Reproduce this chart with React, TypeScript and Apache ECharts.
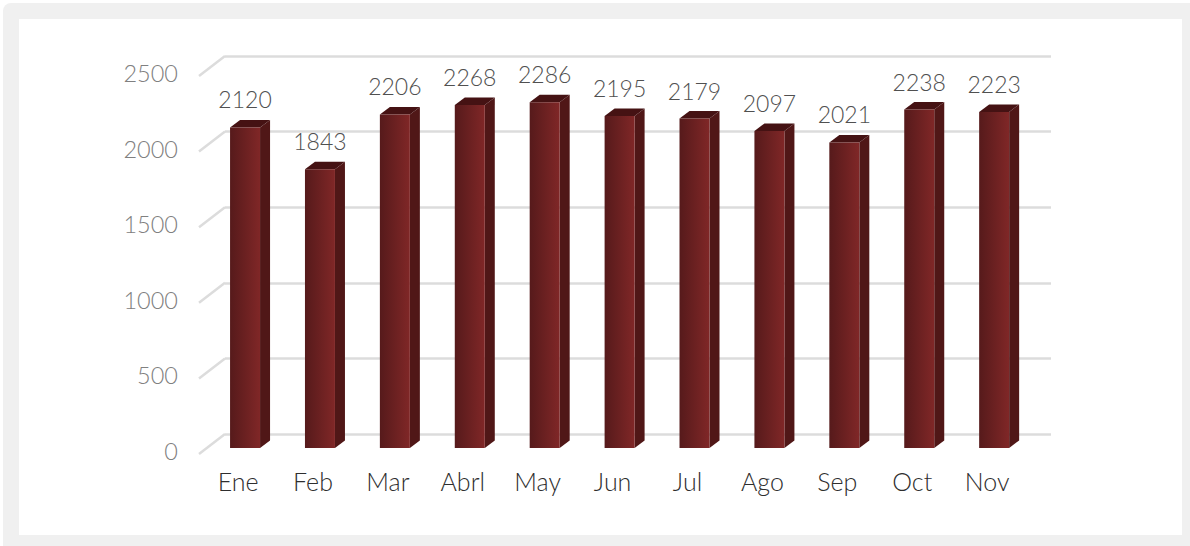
import React, { useEffect, useRef } from "react";
import * as echarts from "echarts";

const categories = ["Ene", "Feb", "Mar", "Abrl", "May", "Jun", "Jul", "Ago", "Sep", "Oct", "Nov"];
const values = [2120, 1843, 2206, 2268, 2286, 2195, 2179, 2097, 2021, 2238, 2223];
const ticks = [0, 500, 1000, 1500, 2000, 2500];

const FONT = "Lato";
const WALL = "#dcdcdc";
const DX = 10;
const DY = 7.5;
const BAR_W = 30;

export default function App() {
  const ref = useRef<HTMLDivElement>(null);
  useEffect(() => {
    document.body.style.margin = "0";
    const chart = echarts.init(ref.current!, null, { renderer: "svg" });
    const commonValue = { type: "value", min: 0, max: 2500, interval: 500 };
    chart.setOption({
      animation: false,
      backgroundColor: "transparent",
      grid: [
        // back wall
        { left: 225, top: 56, width: 826, height: 378 },
        // axis labels
        { left: 200.6, top: 73, width: 824, height: 378 },
        // bars
        { left: 207.6, top: 70, width: 824, height: 378 },
      ],
      xAxis: [
        { gridIndex: 0, type: "category", data: categories, show: false },
        {
          gridIndex: 1,
          type: "category",
          data: categories,
          axisLine: { show: false },
          axisTick: { show: false },
          axisLabel: { color: "#2e2e2e", fontFamily: FONT, fontWeight: 300, fontSize: 25, margin: 17 },
        },
        { gridIndex: 2, type: "category", data: categories, show: false },
      ],
      yAxis: [
        {
          ...commonValue,
          gridIndex: 0,
          axisLine: { show: false },
          axisTick: { show: false },
          axisLabel: { show: false },
          splitLine: { show: true, lineStyle: { color: WALL, width: 2.5 } },
        },
        {
          ...commonValue,
          gridIndex: 1,
          axisLine: { show: false },
          axisTick: { show: false },
          splitLine: { show: false },
          axisLabel: {
            color: "#808080",
            fontFamily: FONT,
            fontWeight: 300,
            fontSize: 23.5,
            margin: 22.6,
            formatter: (v: number) => String(v),
          },
        },
        { ...commonValue, gridIndex: 2, show: false, splitLine: { show: false } },
      ],
      series: [
        {
          // diagonal side-wall strokes, one per tick
          type: "custom",
          name: "wall",
          xAxisIndex: 0,
          yAxisIndex: 0,
          silent: true,
          data: ticks.map((t) => [0, t]),
          encode: { x: 0, y: 1 },
          renderItem: (_: any, api: any) => {
            const p = api.coord([0, api.value(1)]);
            const band = api.size([1, 0])[0];
            const x = p[0] - band / 2;
            return {
              type: "line",
              shape: { x1: x, y1: p[1], x2: x - 26, y2: p[1] + 20 },
              style: { stroke: WALL, lineWidth: 2.5, fill: "none" },
            };
          },
        },
        {
          type: "custom",
          name: "bars",
          xAxisIndex: 2,
          yAxisIndex: 2,
          silent: true,
          data: values.map((v, i) => [i, v]),
          encode: { x: 0, y: 1 },
          z: 5,
          renderItem: (_: any, api: any) => {
            const top = api.coord([api.value(0), api.value(1)]);
            const base = api.coord([api.value(0), 0]);
            const l = top[0] - BAR_W / 2;
            const r = top[0] + BAR_W / 2;
            return {
              type: "group",
              children: [
                {
                  type: "polygon",
                  shape: {
                    points: [
                      [r, top[1]],
                      [r + DX, top[1] - DY],
                      [r + DX, base[1] - DY],
                      [r, base[1]],
                    ],
                  },
                  style: { fill: "#501717" },
                },
                {
                  type: "polygon",
                  shape: {
                    points: [
                      [l, top[1]],
                      [l + DX, top[1] - DY],
                      [r + DX, top[1] - DY],
                      [r, top[1]],
                    ],
                  },
                  style: { fill: "#451213" },
                },
                {
                  type: "rect",
                  shape: { x: l, y: top[1], width: BAR_W, height: base[1] - top[1] },
                  style: {
                    fill: new echarts.graphic.LinearGradient(0, 0, 1, 0, [
                      { offset: 0, color: "#561a1b" },
                      { offset: 1, color: "#802727" },
                    ]),
                  },
                },
                {
                  type: "text",
                  style: {
                    text: String(api.value(1)),
                    x: top[0],
                    y: top[1] - 28,
                    align: "center",
                    verticalAlign: "middle",
                    fill: "#505050",
                    fontFamily: FONT,
                    fontWeight: 300,
                    fontSize: 23,
                  },
                },
              ],
            };
          },
        },
      ],
    });
    return () => chart.dispose();
  }, []);
  return (
    <div style={{ position: "absolute", left: 0, top: 0, width: 1190, height: 546, overflow: "hidden", background: "#fff" }}>
      <div
        style={{
          position: "absolute",
          left: 3,
          top: 3,
          width: 1187,
          height: 543,
          boxSizing: "border-box",
          background: "#f0f0f0",
          borderTopLeftRadius: 8,
        }}
      />
      <div style={{ position: "absolute", left: 19, top: 19, width: 1163, height: 516, background: "#fff" }} />
      <div ref={ref} style={{ position: "absolute", left: 0, top: 0, width: 1190, height: 546 }} />
    </div>
  );
}
